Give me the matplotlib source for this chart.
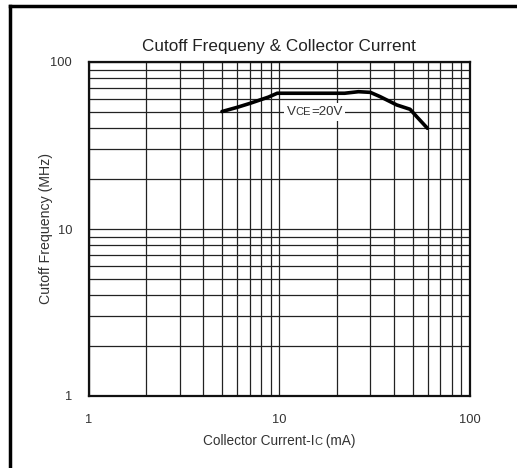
import matplotlib
matplotlib.use("Agg")
import matplotlib.pyplot as plt
from matplotlib.lines import Line2D
from matplotlib.ticker import FixedLocator, NullFormatter
from matplotlib.offsetbox import TextArea, HPacker, AnnotationBbox

plt.rcParams['font.family'] = ['Liberation Sans', 'DejaVu Sans']

ic_ma = [5.0, 6.0, 7.0, 8.75, 9.75, 15.0, 22.0, 26.0, 30.0, 33.8, 41.3, 48.5, 52.6, 59.8]
ft_mhz = [50.5, 53.5, 56.5, 61.6, 65.0, 65.0, 65.0, 66.4, 65.8, 62.0, 55.3, 52.1, 47.0, 40.1]

title = "Cutoff Frequeny & Collector Current"
xlabel_parts = ["Collector Current-I", "C", " (mA)"]
ylabel = "Cutoff Frequency (MHz)"
curve_label_parts = ["V", "CE", "=20V"]
major_ticks = [1, 10, 100]
major_labels = ["1", "10", "100"]
minor_ticks = [2, 3, 4, 5, 6, 7, 8, 9, 20, 30, 40, 50, 60, 70, 80, 90]

TXT = '#333333'


def mixed_text(parts, big, small):
    areas = []
    for i, p in enumerate(parts):
        size = small if i == 1 else big
        areas.append(TextArea(p, textprops=dict(fontsize=size, color=TXT)))
    return HPacker(children=areas, align="baseline", pad=0, sep=0)


W, H = 517, 468
fig = plt.figure(figsize=(W / 100, H / 100), dpi=100)
ax = fig.add_axes([88.7 / W, 1 - 396 / H, (470 - 88.7) / W, (396 - 62) / H])
ax.set_xscale('log')
ax.set_yscale('log')
ax.set_xlim(1, 100)
ax.set_ylim(1, 100)

ax.xaxis.set_major_locator(FixedLocator(major_ticks))
ax.yaxis.set_major_locator(FixedLocator(major_ticks))
ax.set_xticklabels(major_labels)
ax.set_yticklabels(major_labels)
ax.xaxis.set_minor_locator(FixedLocator(minor_ticks))
ax.yaxis.set_minor_locator(FixedLocator(minor_ticks))
ax.xaxis.set_minor_formatter(NullFormatter())
ax.yaxis.set_minor_formatter(NullFormatter())
ax.tick_params(which='both', length=0, labelsize=9.3, colors=TXT)
ax.tick_params(axis='x', pad=13)
ax.tick_params(axis='y', pad=12)
ax.grid(True, which='both', color='#222222', linewidth=0.9)
for s in ax.spines.values():
    s.set_linewidth(1.6)
    s.set_color('#111111')

ax.plot(ic_ma, ft_mhz, color='black', linewidth=2.6, solid_capstyle='round', zorder=5)

lab = AnnotationBbox(mixed_text(curve_label_parts, 9.6, 8), (15.3, 50), xycoords='data',
                     frameon=True, pad=0.2, box_alignment=(0.5, 0.5), zorder=4,
                     bboxprops=dict(facecolor='white', edgecolor='none'))
ax.add_artist(lab)

xl = AnnotationBbox(mixed_text(xlabel_parts, 9.8, 8), (0.5, -0.134), xycoords='axes fraction',
                    frameon=False, pad=0, box_alignment=(0.5, 0.5), annotation_clip=False)
ax.add_artist(xl)

ax.set_title(title, fontsize=12.3, color='#222222', pad=8)
ax.set_ylabel(ylabel, fontsize=10.2, color=TXT, labelpad=-2)

fig.add_artist(Line2D([10 / W, 10 / W], [0, 1 - 6 / H], transform=fig.transFigure,
                      color='black', linewidth=2.5))
fig.add_artist(Line2D([10 / W, 1], [1 - 6 / H, 1 - 6 / H], transform=fig.transFigure,
                      color='black', linewidth=2.5))

fig.savefig("out.png", dpi=100)
